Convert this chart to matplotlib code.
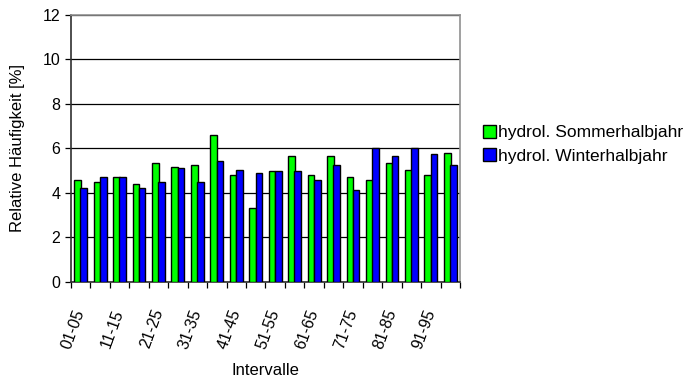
import matplotlib
matplotlib.use("Agg")
import matplotlib.pyplot as plt
import numpy as np

plt.rcParams['font.family'] = ['Liberation Sans', 'DejaVu Sans']

categories = ["01-05", "06-10", "11-15", "16-20", "21-25", "26-30", "31-35", "36-40",
              "41-45", "46-50", "51-55", "56-60", "61-65", "66-70", "71-75", "76-80",
              "81-85", "86-90", "91-95", "96-00"]
sommer = [4.6, 4.5, 4.7, 4.4, 5.35, 5.15, 5.25, 6.6, 4.8, 3.3,
          5.0, 5.65, 4.8, 5.65, 4.7, 4.6, 5.35, 5.05, 4.8, 5.8]
winter = [4.2, 4.7, 4.7, 4.2, 4.5, 5.1, 4.5, 5.45, 5.05, 4.9,
          5.0, 5.0, 4.6, 5.25, 4.15, 6.0, 5.65, 6.0, 5.75, 5.25]

fig = plt.figure(figsize=(6.95, 3.83), dpi=100)
ax = fig.add_axes([0.102, 0.264, 0.560, 0.697])

x = np.arange(len(categories))
w = 0.34
ax.bar(x - w / 2 + 0.01, sommer, w, color='#00ff00', edgecolor='black', linewidth=1.0,
       label='hydrol. Sommerhalbjahr', zorder=3)
ax.bar(x + w / 2 - 0.01, winter, w, color='#0000ff', edgecolor='black', linewidth=1.0,
       label='hydrol. Winterhalbjahr', zorder=3)

ax.set_xlim(-0.5, len(categories) - 0.5)
ax.set_ylim(0, 12)
ax.set_yticks(np.arange(0, 13, 2))
ax.yaxis.grid(True, color='black', linewidth=0.9)
ax.set_axisbelow(True)

# category boundaries carry the tick marks, every second category gets a label
ax.set_xticks(np.arange(-0.5, len(categories), 1.0))
ax.set_xticklabels([])
ax.set_xticks(x[::2], minor=True)
ax.set_xticklabels(categories[::2], minor=True, rotation=70, ha='right', va='center',
                   rotation_mode='anchor', fontsize=11.5)
ax.tick_params(axis='x', which='minor', length=0, pad=20)
ax.tick_params(axis='x', which='major', length=4, width=0.9, direction='out')
ax.tick_params(axis='y', length=4, width=0.9, labelsize=11.5, direction='out')

for side in ('top', 'right'):
    ax.spines[side].set_color('#909090')
    ax.spines[side].set_linewidth(1.2)
for side in ('left', 'bottom'):
    ax.spines[side].set_color('#303030')
    ax.spines[side].set_linewidth(1.2)

ax.set_ylabel('Relative Häufigkeit [%]', fontsize=12)
ax.yaxis.set_label_coords(-0.117, 0.5)
ax.set_xlabel('Intervalle', fontsize=12)
ax.xaxis.set_label_coords(0.5, -0.305)

fig.legend(loc='center left', bbox_to_anchor=(0.683, 0.623), frameon=False,
           fontsize=12.5, handlelength=0.75, handleheight=0.75, handletextpad=0.1,
           labelspacing=0.45, borderpad=0)

fig.savefig('out.png', dpi=100)
